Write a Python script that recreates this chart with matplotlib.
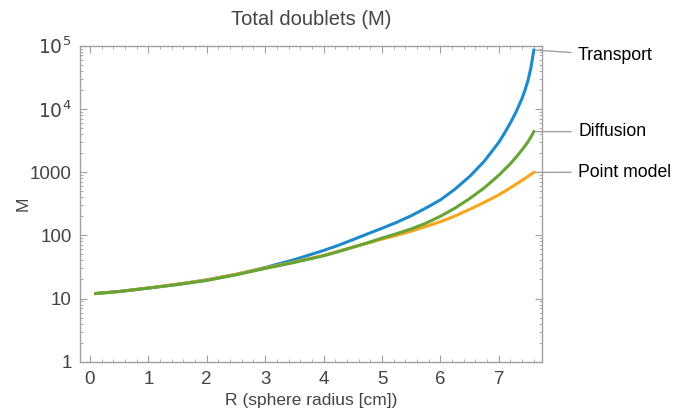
import numpy as np
import matplotlib
matplotlib.use("Agg")
import matplotlib.pyplot as plt
from matplotlib.ticker import LogLocator, MultipleLocator, FixedLocator, NullFormatter

plt.rcParams['font.family'] = ['Liberation Sans', 'DejaVu Sans']

# values (M on a log axis)
R = [0.1, 0.5, 1.0, 1.5, 2.0, 2.5, 3.0, 3.5, 4.0, 4.25, 4.5, 4.75, 5.0, 5.25,
     5.5, 5.75, 6.0, 6.25, 6.5, 6.75, 7.0, 7.1, 7.2, 7.3, 7.4, 7.45, 7.5,
     7.55, 7.6]
transport = [12.0, 12.9, 14.6, 16.8, 19.7, 24.0, 30.9, 41.2, 57.5, 69.2, 85.1,
             105, 129, 160, 204, 269, 363, 537, 851, 1480, 2950, 4170, 6030,
             9120, 14800, 20000, 28200, 44700, 85100]
diffusion = [12.0, 12.9, 14.6, 16.6, 19.3, 23.7, 29.9, 37.2, 47.3, 55.0, 64.6,
             75.9, 90.2, 106, 126, 155, 200, 269, 380, 562, 891, 1100, 1360,
             1740, 2260, 2600, 3020, 3590, 4370]
point_model = [12.0, 12.9, 14.7, 16.9, 19.6, 24.2, 30.4, 37.8, 48.2, 56.0, 64.9,
               75.0, 87.1, 100, 116, 138, 164, 202, 257, 331, 437, 495, 565,
               646, 741, 794, 855, 918, 989]

labels = ["Transport", "Diffusion", "Point model"]
label_y = [70000, 4370, 1000]

fig = plt.figure(figsize=(6.81, 4.12), dpi=100)
ax = fig.add_axes([80/681, 1-361.7/412, 462/681, (361.7-45.7)/412])

c_blue = "#1d8bcb"
c_orange = "#f8a51c"
c_green = "#66a535"
ax.plot(R, transport, color=c_blue, lw=2.2)
ax.plot(R, point_model, color=c_orange, lw=2.2)
ax.plot(R, diffusion, color=c_green, lw=2.2)

ax.set_yscale('log')
ax.set_xlim(-0.17, 7.74)
ax.set_ylim(1, 1e5)

grey = "#a0a0a0"
txt = "#444444"
for s in ax.spines.values():
    s.set_color(grey)
    s.set_linewidth(1.0)

ax.xaxis.set_major_locator(MultipleLocator(1))
ax.xaxis.set_minor_locator(MultipleLocator(0.2))
ax.yaxis.set_major_locator(FixedLocator([1, 10, 100, 1000, 1e4, 1e5]))
ax.yaxis.set_minor_locator(LogLocator(base=10, subs=np.arange(2, 10), numticks=20))
ax.yaxis.set_minor_formatter(NullFormatter())
ax.set_yticklabels(["1", "10", "100", "1000", r"$10^4$", r"$10^5$"])
ax.tick_params(which='both', direction='in', top=True, right=True, color=grey,
               labelcolor=txt, labelsize=13.5)
ax.tick_params(which='major', length=5, width=0.8)
ax.tick_params(which='minor', length=2.5, width=0.6)
ax.tick_params(axis='y', pad=6)
ax.tick_params(axis='x', pad=7)

ax.set_title("Total doublets (M)", color=txt, fontsize=14.5, pad=15)
ax.set_xlabel("R (sphere radius [cm])", color=txt, fontsize=12.5, labelpad=3)
ax.set_ylabel("M", color=txt, fontsize=12.5, labelpad=-0.5)

ends = [transport[-1], diffusion[-1], point_model[-1]]
for lab, ly, ye in zip(labels, label_y, ends):
    ax.annotate(lab, xy=(R[-1] + 0.03, ye), xycoords='data',
                xytext=(1.078, ly), textcoords=('axes fraction', 'data'),
                ha='left', va='center', fontsize=12.7, color='black',
                annotation_clip=False,
                arrowprops=dict(arrowstyle='-', color=grey, lw=1.0,
                                shrinkA=3, shrinkB=0))

fig.savefig("out.png", dpi=100)
